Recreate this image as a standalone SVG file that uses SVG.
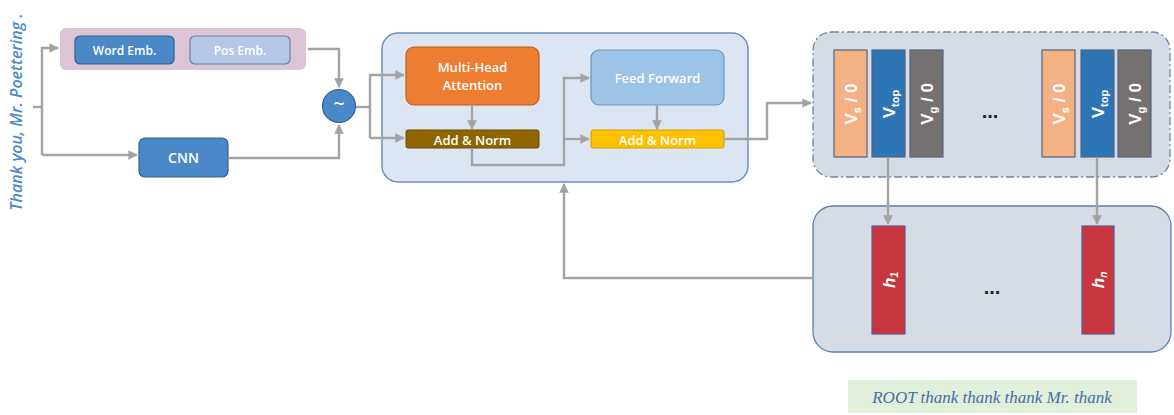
<svg xmlns="http://www.w3.org/2000/svg" width="1174" height="415" viewBox="0 0 1174 415">
<defs>
<marker id="ah" viewBox="0 0 10 10" refX="9" refY="5" markerWidth="4" markerHeight="4" orient="auto" markerUnits="strokeWidth">
<path d="M0,0 L10,5 L0,10 z" fill="#a3a3a3"/>
</marker>
<style>
.con{fill:none;stroke:#a3a3a3;stroke-width:2.4}
.lbl{font-family:"Open Sans","Liberation Sans",sans-serif;font-weight:600;fill:#fff;text-anchor:middle;dominant-baseline:central}
.bar{font-family:"Liberation Sans",sans-serif;font-weight:bold;fill:#fff;text-anchor:middle;dominant-baseline:central;font-size:17px}
.vbar{stroke:#52637f;stroke-width:1.2}
</style>
</defs>
<rect width="1174" height="415" fill="#ffffff"/>

<text transform="translate(22,112) rotate(-90)" font-family="'Open Sans','DejaVu Sans',sans-serif" font-style="italic" font-weight="600" font-size="16" fill="#4f8ac9" text-anchor="middle">Thank you, Mr. Poettering .</text>

<g id="embeddings">
<rect x="60" y="28" width="246" height="42" rx="6" fill="#dbc5d5"/>
</g>
<g id="word-emb">
<rect x="75" y="36" width="99" height="28" rx="5" fill="#4a88c7" stroke="#33618f" stroke-width="1.2"/>
<text class="lbl" x="124.5" y="50" font-size="12">Word Emb.</text>
</g>
<g id="pos-emb">
<rect x="190" y="36" width="100" height="28" rx="5" fill="#b4c7e7" stroke="#6b7f9f" stroke-width="1.2"/>
<text class="lbl" x="240" y="50" font-size="12">Pos Emb.</text>
</g>
<g id="cnn">
<rect x="139" y="138" width="89" height="39" rx="6" fill="#4a88c7" stroke="#33618f" stroke-width="1.2"/>
<text class="lbl" x="183.5" y="157.5" font-size="14" font-weight="bold">CNN</text>
</g>
<g id="combine">
<circle cx="339" cy="106" r="16.5" fill="#4a88c7" stroke="#33618f" stroke-width="1.2"/>
<text class="lbl" x="339" y="103" font-size="20" font-weight="bold">~</text>
</g>

<g id="encoder">
<rect x="382" y="33" width="366" height="149" rx="16" fill="#dce6f2" stroke="#6d8ebf" stroke-width="1.5"/>
</g>
<g id="mha">
<rect x="406" y="47" width="133" height="58" rx="8" fill="#ed7d31" stroke="#c45c1a" stroke-width="1.2"/>
<text class="lbl" x="472.5" y="67" font-size="13">Multi-Head</text>
<text class="lbl" x="472.5" y="85" font-size="13">Attention</text>
</g>
<g id="addnorm1">
<rect x="406" y="130" width="133" height="18" rx="2" fill="#8f6500" stroke="#6b4c00" stroke-width="1"/>
<text class="lbl" x="472.5" y="139.5" font-size="13">Add &amp; Norm</text>
</g>
<g id="ff">
<rect x="591" y="50" width="133" height="55" rx="8" fill="#9dc3e6" stroke="#6e95bf" stroke-width="1.2"/>
<text class="lbl" x="657.5" y="77.5" font-size="13">Feed Forward</text>
</g>
<g id="addnorm2">
<rect x="591" y="130" width="133" height="18" rx="2" fill="#ffc000" stroke="#d0a000" stroke-width="1"/>
<text class="lbl" x="657.5" y="139.5" font-size="13">Add &amp; Norm</text>
</g>

<g id="decoder-states">
<rect x="813" y="32" width="357" height="145" rx="18" fill="#d6dce5" stroke="#6f85a6" stroke-width="1.3" stroke-dasharray="8,3,2,3"/>
<rect class="vbar" x="834" y="50" width="33" height="107" fill="#f4b183"/>
<rect class="vbar" x="872" y="50" width="33" height="107" fill="#2e75b6"/>
<rect class="vbar" x="910" y="50" width="33" height="107" fill="#767171"/>
<text class="bar" transform="translate(851,104) rotate(-90)">V<tspan font-size="11" baseline-shift="sub">s</tspan> / 0</text>
<text class="bar" transform="translate(889,104) rotate(-90)">V<tspan font-size="11" baseline-shift="sub">top</tspan></text>
<text class="bar" transform="translate(927,104) rotate(-90)">V<tspan font-size="11" baseline-shift="sub">g</tspan> / 0</text>
<text x="990" y="118" font-family="'Liberation Sans',sans-serif" font-size="20" font-weight="bold" fill="#222" text-anchor="middle">...</text>
<rect class="vbar" x="1042" y="50" width="33" height="107" fill="#f4b183"/>
<rect class="vbar" x="1081" y="50" width="33" height="107" fill="#2e75b6"/>
<rect class="vbar" x="1118" y="50" width="33" height="107" fill="#767171"/>
<text class="bar" transform="translate(1059,104) rotate(-90)">V<tspan font-size="11" baseline-shift="sub">s</tspan> / 0</text>
<text class="bar" transform="translate(1098,104) rotate(-90)">V<tspan font-size="11" baseline-shift="sub">top</tspan></text>
<text class="bar" transform="translate(1135,104) rotate(-90)">V<tspan font-size="11" baseline-shift="sub">g</tspan> / 0</text>
</g>

<g id="hidden-states">
<rect x="813" y="206" width="358" height="146" rx="20" fill="#d6dce5" stroke="#5b7fae" stroke-width="1.3"/>
<rect x="872" y="226" width="33" height="108" fill="#c8363d" stroke="#5a5a8a" stroke-width="1.2"/>
<rect x="1082" y="226" width="32" height="108" fill="#c8363d" stroke="#5a5a8a" stroke-width="1.2"/>
<text class="bar" transform="translate(889,280) rotate(-90)" font-style="italic">h<tspan font-size="10" baseline-shift="sub">1</tspan></text>
<text class="bar" transform="translate(1098,280) rotate(-90)" font-style="italic">h<tspan font-size="10" baseline-shift="sub">n</tspan></text>
<text x="992" y="294" font-family="'Liberation Sans',sans-serif" font-size="20" font-weight="bold" fill="#222" text-anchor="middle">...</text>
</g>

<g id="output">
<rect x="848" y="380" width="289" height="33" fill="#e2efda"/>
<text x="992" y="403" font-family="'Liberation Serif',serif" font-style="italic" font-size="17" fill="#3e6fa8" text-anchor="middle">ROOT thank thank thank Mr. thank</text>
</g>

<g id="connectors">
<path class="con" d="M33,107 H42"/>
<path class="con" d="M42,155 V48 H58" marker-end="url(#ah)"/>
<path class="con" d="M42,155 H137" marker-end="url(#ah)"/>
<path class="con" d="M308,49 H339 V87" marker-end="url(#ah)"/>
<path class="con" d="M228,158 H339 V125" marker-end="url(#ah)"/>
<path class="con" d="M356,107 H370"/>
<path class="con" d="M370,138 V75 H404" marker-end="url(#ah)"/>
<path class="con" d="M370,138 H404" marker-end="url(#ah)"/>
<path class="con" d="M472,105 V129" marker-end="url(#ah)"/>
<path class="con" d="M472,148 V165 H564 V78 H589" marker-end="url(#ah)"/>
<path class="con" d="M564,139 H589" marker-end="url(#ah)"/>
<path class="con" d="M657,105 V129" marker-end="url(#ah)"/>
<path class="con" d="M724,139 H767 V103 H811" marker-end="url(#ah)"/>
<path class="con" d="M888,157 V224" marker-end="url(#ah)"/>
<path class="con" d="M1097,157 V224" marker-end="url(#ah)"/>
<path class="con" d="M813,278 H564 V184" marker-end="url(#ah)"/>
</g>
</svg>
